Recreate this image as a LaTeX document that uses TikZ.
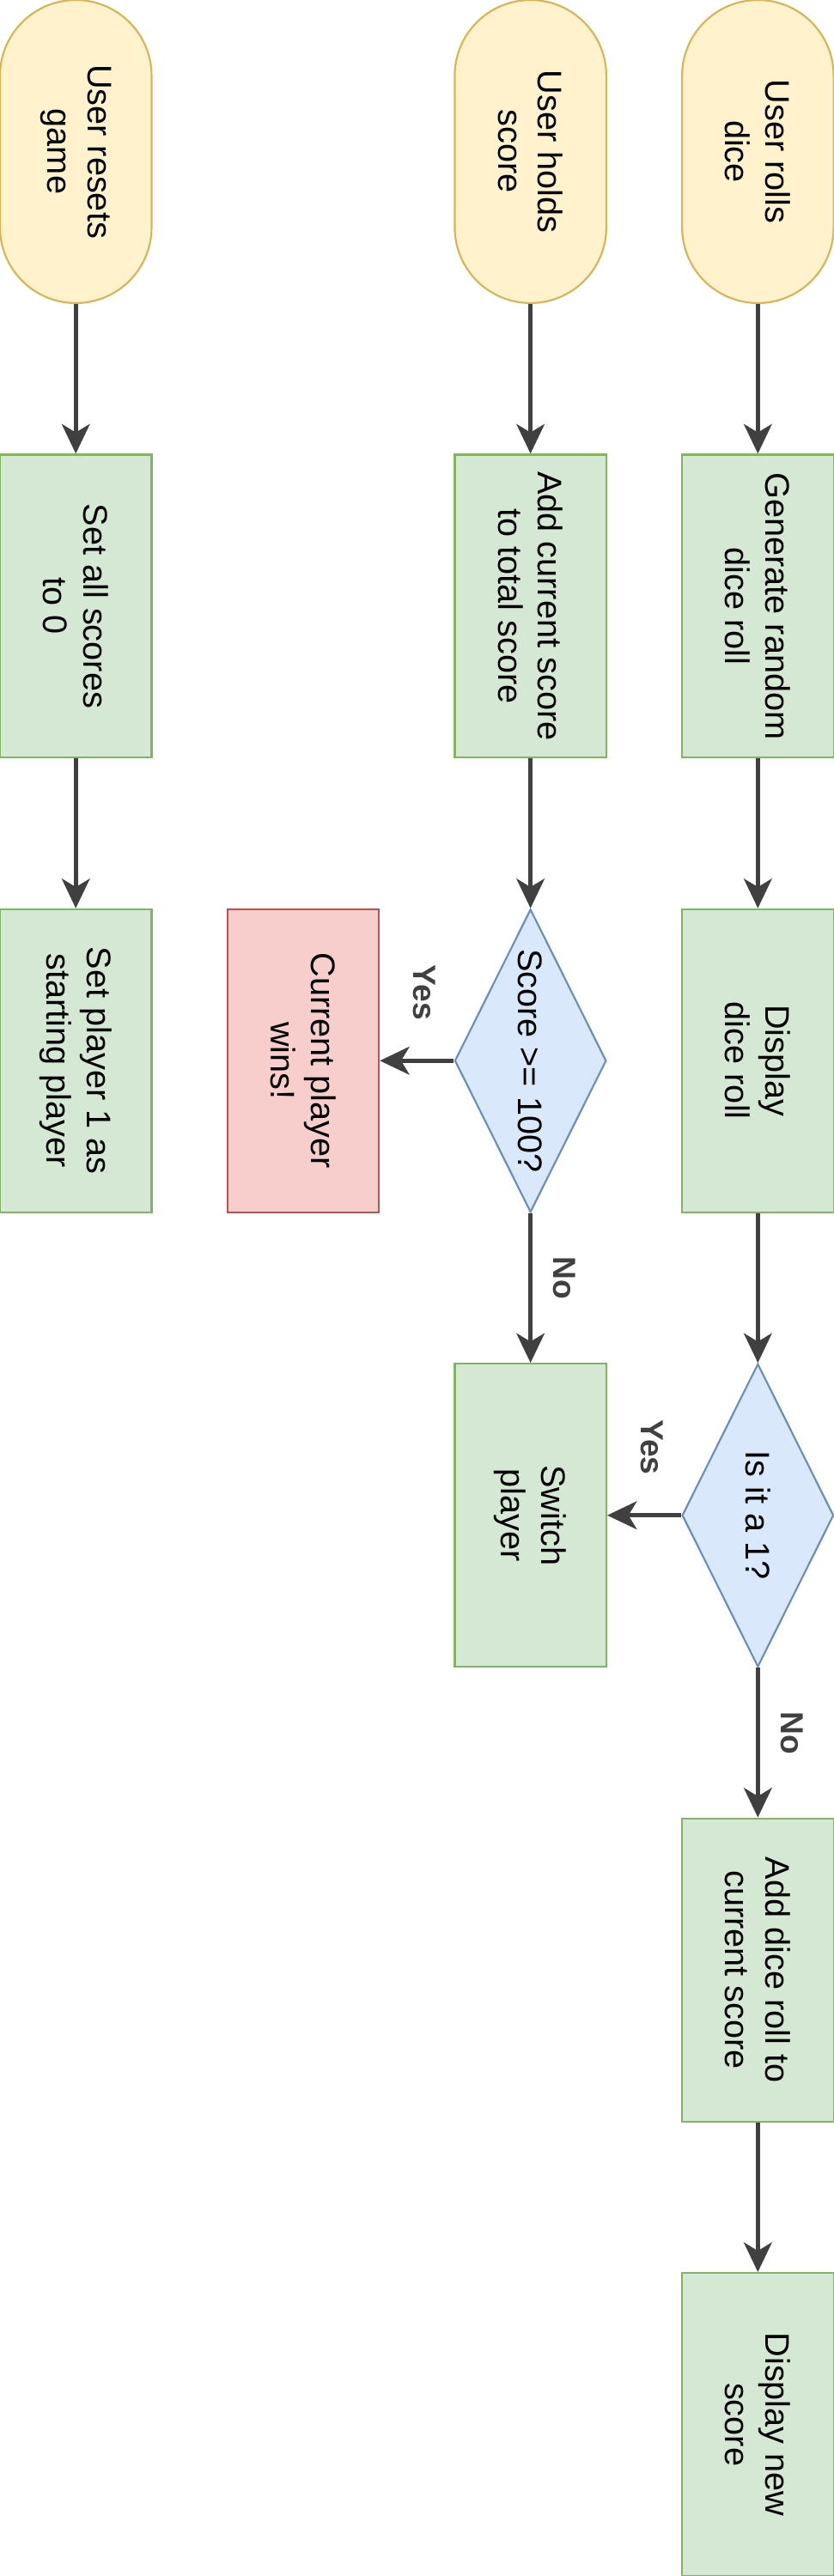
\documentclass[tikz,border=0pt]{standalone}
\usepackage{fontspec}
\setsansfont{Liberation Sans}
\usetikzlibrary{arrows.meta,shapes.geometric,calc}
\definecolor{ink}{HTML}{000000}
\definecolor{edge}{HTML}{404040}
\definecolor{termline}{HTML}{D6B656}
\definecolor{termfill}{HTML}{FFF2CC}
\definecolor{procline}{HTML}{82B366}
\definecolor{procfill}{HTML}{D5E8D4}
\definecolor{decline}{HTML}{6C8EBF}
\definecolor{decfill}{HTML}{DAE8FC}
\definecolor{winline}{HTML}{B85450}
\definecolor{winfill}{HTML}{F8CECC}

\begin{document}
\begin{tikzpicture}[
  font=\sffamily\fontsize{12.8}{15.1}\selectfont,
  box/.style={rotate=-90, minimum width=4cm, minimum height=2cm, inner sep=0pt, align=center, line width=0.7pt, text=ink},
  term/.style={box, draw=termline, fill=termfill, rounded corners=1cm},
  proc/.style={box, draw=procline, fill=procfill},
  dec/.style={box, diamond, aspect=2, draw=decline, fill=decfill},
  win/.style={box, draw=winline, fill=winfill},
  arrow/.style={-{Stealth[length=3.9mm, width=3.7mm, inset=1.1mm]}, line width=1.5pt, draw=edge},
  msg/.style={rotate=-90, font=\sffamily\bfseries\fontsize{12}{14}\selectfont, text=edge}
]
\useasboundingbox (0,0) rectangle (11,-34);

% ---------- Roll dice ----------
\node[term] (roll) at (10,-2) {User rolls\\dice};
\node[proc] (gen) at (10,-8) {Generate random\\dice roll};
\node[proc] (show) at (10,-14) {Display\\dice roll};
\node[dec] (one) at (10,-20) {Is it a 1?};
\node[proc] (add) at (10,-26) {Add dice roll to\\current score};
\node[proc] (new) at (10,-32) {Display new\\score};

% ---------- Hold score ----------
\node[term] (hold) at (7,-2) {User holds\\score};
\node[proc] (total) at (7,-8) {Add current score\\to total score};
\node[dec] (hundred) at (7,-14) {Score >= 100?};
\node[proc] (switch) at (7,-20) {Switch\\player};
\node[win] (wins) at (4,-14) {Current player\\wins!};

% ---------- Reset game ----------
\node[term] (reset) at (1,-2) {User resets\\game};
\node[proc] (zero) at (1,-8) {Set all scores\\to 0};
\node[proc] (first) at (1,-14) {Set player 1 as\\starting player};

% ---------- Arrows ----------
\draw[arrow] (roll) -- (gen);
\draw[arrow] (gen) -- (show);
\draw[arrow] (show) -- (one);
\draw[arrow] (one) -- (add);
\draw[arrow] (add) -- (new);
\draw[arrow] (one) -- (switch);
\draw[arrow] (hold) -- (total);
\draw[arrow] (total) -- (hundred);
\draw[arrow] (hundred) -- (wins);
\draw[arrow] (hundred) -- (switch);
\draw[arrow] (reset) -- (zero);
\draw[arrow] (zero) -- (first);

% Yes / No
\node[msg] (yeswin) at ($(hundred)!0.5!(wins)+(0.1,0.9)$) {Yes};
\node[msg] (noswitch) at ($(hundred)!0.5!(switch)+(0.45,0.13)$) {No};
\node[msg] (yesone) at ($(one)!0.5!(switch)+(0.1,0.9)$) {Yes};
\node[msg] (noone) at ($(one)!0.5!(add)+(0.45,0.13)$) {No};

\end{tikzpicture}
\end{document}
